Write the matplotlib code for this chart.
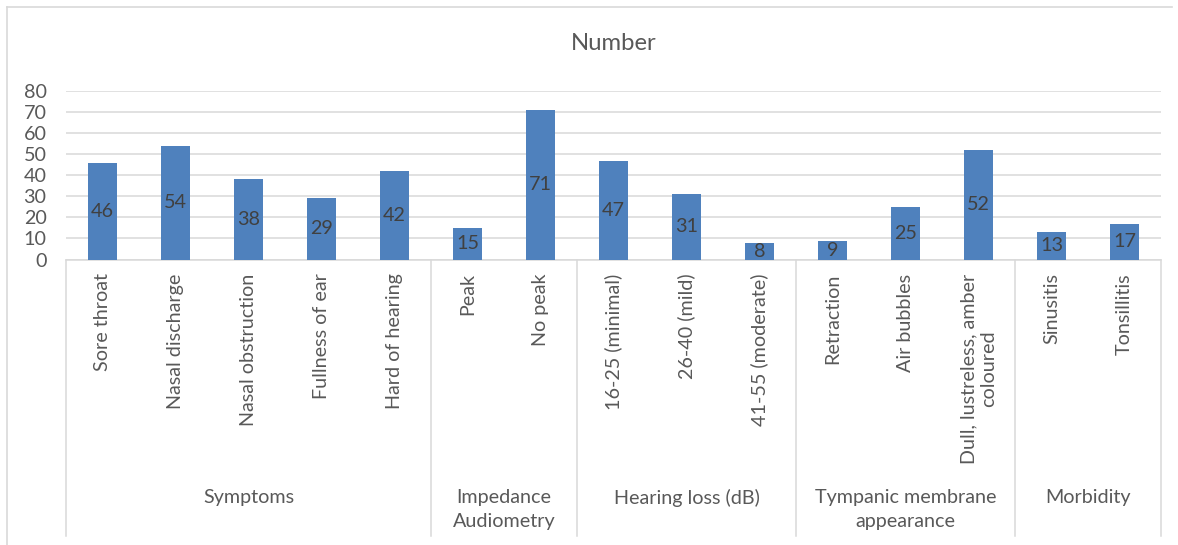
import matplotlib
matplotlib.use("Agg")
import matplotlib.pyplot as plt
import matplotlib.transforms as mtransforms
from matplotlib.lines import Line2D

plt.rcParams['font.family'] = ['Lato', 'DejaVu Sans']

# ---- data ----
groups = ["Symptoms", "Impedance\nAudiometry", "Hearing loss (dB)",
          "Tympanic membrane\nappearance", "Morbidity"]
group_sizes = [5, 2, 3, 3, 2]
categories = ["Sore throat", "Nasal discharge", "Nasal obstruction", "Fullness of ear",
              "Hard of hearing", "Peak", "No peak", "16-25 (minimal)", "26-40 (mild)",
              "41-55 (moderate)", "Retraction", "Air bubbles",
              "Dull, lustreless, amber\ncoloured", "Sinusitis", "Tonsillitis"]
values = [46, 54, 38, 29, 42, 15, 71, 47, 31, 8, 9, 25, 52, 13, 17]
title = "Number"
yticks = [0, 10, 20, 30, 40, 50, 60, 70, 80]

W, H = 1178, 545
fig = plt.figure(figsize=(W / 100, H / 100), dpi=100)

def fx(px):
    return px / W

def fy(py):
    return 1 - py / H

ax_left, ax_right, ax_top, ax_bottom = 66, 1161, 91, 259.5
ax = fig.add_axes([fx(ax_left), fy(ax_bottom), fx(ax_right - ax_left), fy(ax_top) - fy(ax_bottom)])

text_color = '#595959'
grid_color = '#D9D9D9'
bar_color = '#4F81BD'
fs = 14.2

n = len(categories)
x = list(range(n))
bars = ax.bar(x, values, width=0.4, color=bar_color, zorder=3)
ax.bar_label(bars, labels=[str(v) for v in values], label_type='center',
             color='#404040', fontsize=fs, zorder=4)

ax.set_xlim(-0.5, n - 0.5)
ax.set_ylim(0, 80)
ax.set_yticks(yticks)
ax.set_yticklabels([str(t) for t in yticks], fontsize=fs, color=text_color)
ax.yaxis.grid(True, color=grid_color, linewidth=1.1, zorder=0)
ax.set_axisbelow(True)
ax.tick_params(axis='y', length=0, pad=14)
ax.tick_params(axis='x', length=0, pad=10)
ax.set_xticks(x)
ax.set_xticklabels(categories, rotation=90, fontsize=fs, color=text_color, va='top', ha='center')
for lab in ax.get_xticklabels():
    lab.set_multialignment('center')

for s in ['top', 'right', 'left']:
    ax.spines[s].set_visible(False)
ax.spines['bottom'].set_color(grid_color)
ax.spines['bottom'].set_linewidth(1.1)

ax.set_title(title, fontsize=17.2, color=text_color, pad=0, y=1 + (91 - 43) / (259.5 - 91), va='center')

# group dividers and labels
trans = mtransforms.blended_transform_factory(ax.transData, fig.transFigure)
bounds = [-0.5]
for s in group_sizes:
    bounds.append(bounds[-1] + s)
for b in bounds:
    ax.add_line(Line2D([b, b], [fy(259.5), fy(536)], transform=trans, color=grid_color,
                       linewidth=1.1, clip_on=False))
for i, g in enumerate(groups):
    cx = (bounds[i] + bounds[i + 1]) / 2
    ax.text(cx, fy(488.5), g, transform=trans, ha='center', va='top', fontsize=fs,
            color=text_color, linespacing=1.57, multialignment='center')

# chart outer border
fig.add_artist(Line2D([fx(7), fx(7)], [fy(7), fy(545)], transform=fig.transFigure,
                      color=grid_color, linewidth=1.2))
fig.add_artist(Line2D([fx(7), fx(1172)], [fy(7), fy(7)], transform=fig.transFigure,
                      color=grid_color, linewidth=1.2))

fig.savefig('out.png', dpi=100)
